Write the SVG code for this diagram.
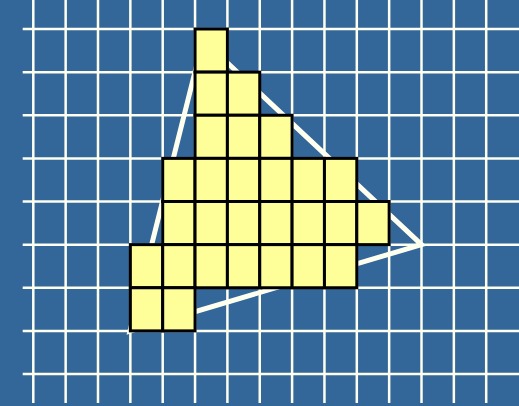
<svg xmlns="http://www.w3.org/2000/svg" width="519" height="406" viewBox="0 0 519 406">
<style>
.grid line{stroke:#FFFFF0;stroke-width:2.5}
.cell{fill:#FFFF99;stroke:#000;stroke-width:3}
.tri{fill:none;stroke:#FFFFF0;stroke-width:5;stroke-linejoin:miter}
</style>
<rect x="0" y="0" width="519" height="406" fill="#336699"/>
<g id="grid" class="grid">
<line x1="33.3" y1="0" x2="33.3" y2="403"/>
<line x1="65.65" y1="0" x2="65.65" y2="403"/>
<line x1="98" y1="0" x2="98" y2="403"/>
<line x1="130.35" y1="0" x2="130.35" y2="403"/>
<line x1="162.7" y1="0" x2="162.7" y2="403"/>
<line x1="195.05" y1="0" x2="195.05" y2="403"/>
<line x1="227.4" y1="0" x2="227.4" y2="403"/>
<line x1="259.75" y1="0" x2="259.75" y2="403"/>
<line x1="292.1" y1="0" x2="292.1" y2="403"/>
<line x1="324.45" y1="0" x2="324.45" y2="403"/>
<line x1="356.8" y1="0" x2="356.8" y2="403"/>
<line x1="389.15" y1="0" x2="389.15" y2="403"/>
<line x1="421.5" y1="0" x2="421.5" y2="403"/>
<line x1="453.85" y1="0" x2="453.85" y2="403"/>
<line x1="486.2" y1="0" x2="486.2" y2="403"/>
<line x1="22.7" y1="29" x2="519" y2="29"/>
<line x1="22.7" y1="72.125" x2="519" y2="72.125"/>
<line x1="22.7" y1="115.25" x2="519" y2="115.25"/>
<line x1="22.7" y1="158.375" x2="519" y2="158.375"/>
<line x1="22.7" y1="201.5" x2="519" y2="201.5"/>
<line x1="22.7" y1="244.625" x2="519" y2="244.625"/>
<line x1="22.7" y1="287.75" x2="519" y2="287.75"/>
<line x1="22.7" y1="330.875" x2="519" y2="330.875"/>
<line x1="22.7" y1="374" x2="519" y2="374"/>
</g>
<g id="triangle">
<polygon class="tri" points="203,40 421.5,244.6 130,331"/>
</g>
<g id="cells">
<rect class="cell" x="195.05" y="29" width="32.35" height="43.125"/>
<rect class="cell" x="195.05" y="72.125" width="32.35" height="43.125"/>
<rect class="cell" x="227.4" y="72.125" width="32.35" height="43.125"/>
<rect class="cell" x="195.05" y="115.25" width="32.35" height="43.125"/>
<rect class="cell" x="227.4" y="115.25" width="32.35" height="43.125"/>
<rect class="cell" x="259.75" y="115.25" width="32.35" height="43.125"/>
<rect class="cell" x="162.7" y="158.375" width="32.35" height="43.125"/>
<rect class="cell" x="195.05" y="158.375" width="32.35" height="43.125"/>
<rect class="cell" x="227.4" y="158.375" width="32.35" height="43.125"/>
<rect class="cell" x="259.75" y="158.375" width="32.35" height="43.125"/>
<rect class="cell" x="292.1" y="158.375" width="32.35" height="43.125"/>
<rect class="cell" x="324.45" y="158.375" width="32.35" height="43.125"/>
<rect class="cell" x="162.7" y="201.5" width="32.35" height="43.125"/>
<rect class="cell" x="195.05" y="201.5" width="32.35" height="43.125"/>
<rect class="cell" x="227.4" y="201.5" width="32.35" height="43.125"/>
<rect class="cell" x="259.75" y="201.5" width="32.35" height="43.125"/>
<rect class="cell" x="292.1" y="201.5" width="32.35" height="43.125"/>
<rect class="cell" x="324.45" y="201.5" width="32.35" height="43.125"/>
<rect class="cell" x="356.8" y="201.5" width="32.35" height="43.125"/>
<rect class="cell" x="130.35" y="244.625" width="32.35" height="43.125"/>
<rect class="cell" x="162.7" y="244.625" width="32.35" height="43.125"/>
<rect class="cell" x="195.05" y="244.625" width="32.35" height="43.125"/>
<rect class="cell" x="227.4" y="244.625" width="32.35" height="43.125"/>
<rect class="cell" x="259.75" y="244.625" width="32.35" height="43.125"/>
<rect class="cell" x="292.1" y="244.625" width="32.35" height="43.125"/>
<rect class="cell" x="324.45" y="244.625" width="32.35" height="43.125"/>
<rect class="cell" x="130.35" y="287.75" width="32.35" height="43.125"/>
<rect class="cell" x="162.7" y="287.75" width="32.35" height="43.125"/>
</g>
</svg>
